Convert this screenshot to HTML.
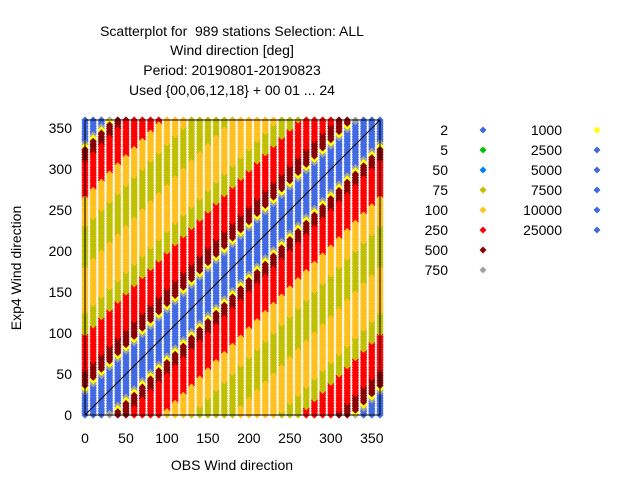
<!DOCTYPE html>
<html><head><meta charset="utf-8"><style>
body{margin:0;background:#fff;}
svg text{font-family:"Liberation Sans",sans-serif;fill:#000;}
</style></head><body>
<svg id="chart" width="640" height="480" viewBox="0 0 640 480" xmlns="http://www.w3.org/2000/svg">
<g font-size="14" text-anchor="middle">
<text x="232" y="36" xml:space="preserve">Scatterplot for  989 stations Selection: ALL</text>
<text x="232" y="55">Wind direction [deg]</text>
<text x="232" y="75">Period: 20190801-20190823</text>
<text x="232" y="95">Used {00,06,12,18} + 00 01 ... 24</text>
</g>
<g id="marks"></g>
<line id="diag" stroke="#000" stroke-width="1"/>
<rect x="85" y="120" width="295" height="295" fill="none" stroke="#000" stroke-width="1"/>
<g id="axes"></g>
<text x="232" y="470" font-size="14" text-anchor="middle">OBS Wind direction</text>
<text transform="translate(21,268) rotate(-90)" font-size="14" text-anchor="middle">Exp4 Wind direction</text>
<g id="legend"></g>
</svg>
<script>
const xTicks=[0,50,100,150,200,250,300,350];
const yTicks=[0,50,100,150,200,250,300,350];
const legendLabels=["2","5","50","75","100","250","500","750","1000","2500","5000","7500","10000","25000"];
const legendColors=["#4169e1","#00c000","#0080ff","#c0c000","#ffc020","#ff0000","#8b0000","#a0a0a0","#ffff00","#4169e1","#4169e1","#4169e1","#4169e1","#4169e1"];
const columns=[0,10,20,30,40,50,60,70,80,90,100,110,120,130,140,150,160,170,180,190,200,210,220,230,240,250,260,270,280,290,300,310,320,330,340,350,360];
// band edges by circular difference exp-obs (deg) and colour index into legendColors
const bandEdgesPos=[28,32,36,55,100,125,181];
const bandColorPos=[9,7,8,6,5,3,4];
const bandEdgesNeg=[28,32,36,52,95,130,181];
const bandColorNeg=[9,7,8,6,5,4,3];
const NS="http://www.w3.org/2000/svg";
const X0=85,X1=380,Y0=415,Y1=120;
const sx=v=>X0+(X1-X0)*v/360, sy=v=>Y0-(Y0-Y1)*v/360;
const d=document.getElementById('diag');
d.setAttribute('x1',sx(0));d.setAttribute('y1',sy(0));d.setAttribute('x2',sx(360));d.setAttribute('y2',sy(360));
const paths={};
function dia(cx,cy,r){return `M${cx-r} ${cy}L${cx} ${cy-r}L${cx+r} ${cy}L${cx} ${cy+r}Z`;}
columns.forEach(x=>{
  for(let y=0;y<=360;y+=2){
    let dd=((y-x)%360+540)%360-180;
    let ad=Math.abs(dd),edges=dd>=0?bandEdgesPos:bandEdgesNeg,cols=dd>=0?bandColorPos:bandColorNeg;
    let ci=cols[cols.length-1];
    for(let i=0;i<edges.length;i++){if(ad<edges[i]){ci=cols[i];break;}}
    const c=legendColors[ci];
    paths[c]=(paths[c]||"")+dia(sx(x),sy(y),3.6);
  }
});
const mg=document.getElementById('marks');
Object.keys(paths).forEach(c=>{
  const p=document.createElementNS(NS,'path');
  
  
  p.setAttribute('d',paths[c]);p.setAttribute('fill',c);
  mg.appendChild(p);
});
const ax=document.getElementById('axes');
xTicks.forEach(t=>{
  const tx=document.createElementNS(NS,'text');
  
  
  tx.setAttribute('x',sx(t));tx.setAttribute('y',443);tx.setAttribute('font-size','14');tx.setAttribute('text-anchor','middle');
  tx.textContent=t;ax.appendChild(tx);
});
yTicks.forEach(t=>{
  const tx=document.createElementNS(NS,'text');
  
  
  tx.setAttribute('x',72);tx.setAttribute('y',sy(t)+5);tx.setAttribute('font-size','14');tx.setAttribute('text-anchor','end');
  tx.textContent=t;ax.appendChild(tx);
});
const lg=document.getElementById('legend');
legendLabels.forEach((l,i)=>{
  const col=i<8?0:1,row=i<8?i:i-8;
  const y=130+row*20;
  const tx=document.createElementNS(NS,'text');
  
  
  tx.setAttribute('x',col?562:448);tx.setAttribute('y',y+5);tx.setAttribute('font-size','14');tx.setAttribute('text-anchor','end');
  tx.textContent=l;lg.appendChild(tx);
  const m=document.createElementNS(NS,'path');
  
  
  m.setAttribute('d',dia(col?597:483,y,3.5));m.setAttribute('fill',legendColors[i]);
  lg.appendChild(m);
});
</script>
</body></html>
